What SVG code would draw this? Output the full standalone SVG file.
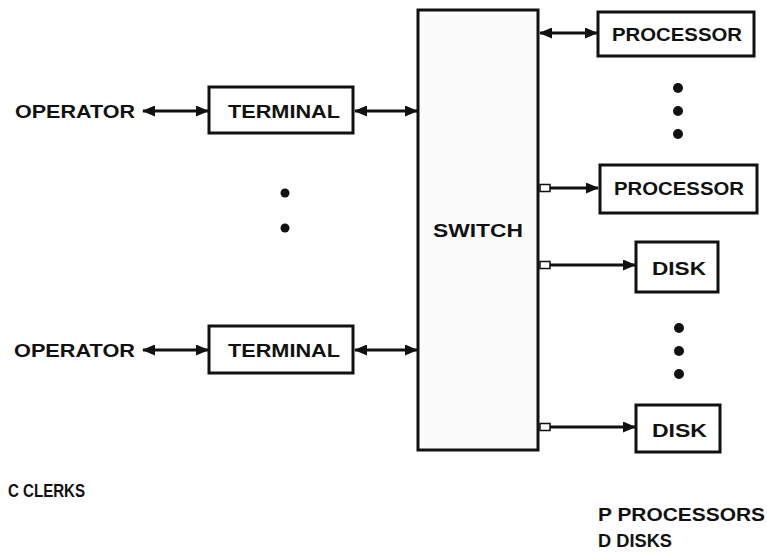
<svg xmlns="http://www.w3.org/2000/svg" width="767" height="554" viewBox="0 0 767 554">
<style>
.box{fill:#fff;stroke:#111;stroke-width:3}
.sw{fill:#fbfbfb;stroke:#111;stroke-width:3}
.t{font-family:"Liberation Sans",Arial,sans-serif;font-weight:bold;font-size:19px;fill:#111}
.c{stroke:#111;stroke-width:3;fill:none}
.stub{fill:#fff;stroke:#111;stroke-width:1.5}
.dot{fill:#111}
</style>
<defs>
<marker id="ah" markerUnits="userSpaceOnUse" markerWidth="13" markerHeight="11" refX="12" refY="5.5" orient="auto-start-reverse">
<path d="M0,0 L13,5.5 L0,11 Z" fill="#111"/>
</marker>
</defs>
<rect width="767" height="554" fill="#fff"/>
<g id="connectors">
<line class="c" x1="143" y1="111" x2="208" y2="111" marker-start="url(#ah)" marker-end="url(#ah)"/>
<line class="c" x1="355" y1="111" x2="417" y2="111" marker-start="url(#ah)" marker-end="url(#ah)"/>
<line class="c" x1="143" y1="350" x2="208" y2="350" marker-start="url(#ah)" marker-end="url(#ah)"/>
<line class="c" x1="355" y1="350" x2="417" y2="350" marker-start="url(#ah)" marker-end="url(#ah)"/>
<line class="c" x1="540" y1="33" x2="597" y2="33" marker-start="url(#ah)" marker-end="url(#ah)"/>
<line class="c" x1="550" y1="188" x2="598" y2="188" marker-end="url(#ah)"/>
<rect class="stub" x="540" y="184.5" width="10" height="7"/>
<line class="c" x1="550" y1="265" x2="635" y2="265" marker-end="url(#ah)"/>
<rect class="stub" x="540" y="261.5" width="10" height="7"/>
<line class="c" x1="550" y1="427" x2="635" y2="427" marker-end="url(#ah)"/>
<rect class="stub" x="540" y="423.5" width="10" height="7"/>
</g>
<g id="switch">
<rect class="sw" x="418" y="10" width="120" height="440"/>
<text class="t" x="478" y="237" text-anchor="middle" textLength="90" lengthAdjust="spacingAndGlyphs">SWITCH</text>
</g>
<g id="operator1"><text class="t" x="15" y="118" textLength="120" lengthAdjust="spacingAndGlyphs">OPERATOR</text></g>
<g id="terminal1">
<rect class="box" x="209" y="87" width="144" height="46"/>
<text class="t" x="228" y="118" textLength="112" lengthAdjust="spacingAndGlyphs">TERMINAL</text>
</g>
<g id="operator2"><text class="t" x="14" y="357" textLength="121" lengthAdjust="spacingAndGlyphs">OPERATOR</text></g>
<g id="terminal2">
<rect class="box" x="209" y="326" width="144" height="47"/>
<text class="t" x="228" y="357" textLength="112" lengthAdjust="spacingAndGlyphs">TERMINAL</text>
</g>
<g id="processor1">
<rect class="box" x="598" y="12" width="156" height="44"/>
<text class="t" x="612" y="41" textLength="130" lengthAdjust="spacingAndGlyphs">PROCESSOR</text>
</g>
<g id="processor2">
<rect class="box" x="600" y="165" width="157" height="48"/>
<text class="t" x="614" y="195" textLength="130" lengthAdjust="spacingAndGlyphs">PROCESSOR</text>
</g>
<g id="disk1">
<rect class="box" x="636" y="242" width="82" height="50"/>
<text class="t" x="652" y="275" textLength="54" lengthAdjust="spacingAndGlyphs">DISK</text>
</g>
<g id="disk2">
<rect class="box" x="636" y="405" width="84" height="47"/>
<text class="t" x="652" y="437" textLength="55" lengthAdjust="spacingAndGlyphs">DISK</text>
</g>
<g id="ellipses">
<circle class="dot" cx="285" cy="193" r="4.5"/>
<circle class="dot" cx="285" cy="228" r="4.5"/>
<circle class="dot" cx="678" cy="88" r="5"/>
<circle class="dot" cx="678" cy="111" r="5"/>
<circle class="dot" cx="678" cy="134" r="5"/>
<circle class="dot" cx="679" cy="328" r="5"/>
<circle class="dot" cx="679" cy="351" r="5"/>
<circle class="dot" cx="679" cy="374" r="5"/>
</g>
<g id="legend">
<text class="t" x="8" y="497" textLength="77" lengthAdjust="spacingAndGlyphs">C CLERKS</text>
<text class="t" x="598" y="521" textLength="167" lengthAdjust="spacingAndGlyphs">P PROCESSORS</text>
<text class="t" x="598" y="547" textLength="74" lengthAdjust="spacingAndGlyphs">D DISKS</text>
</g>
</svg>
